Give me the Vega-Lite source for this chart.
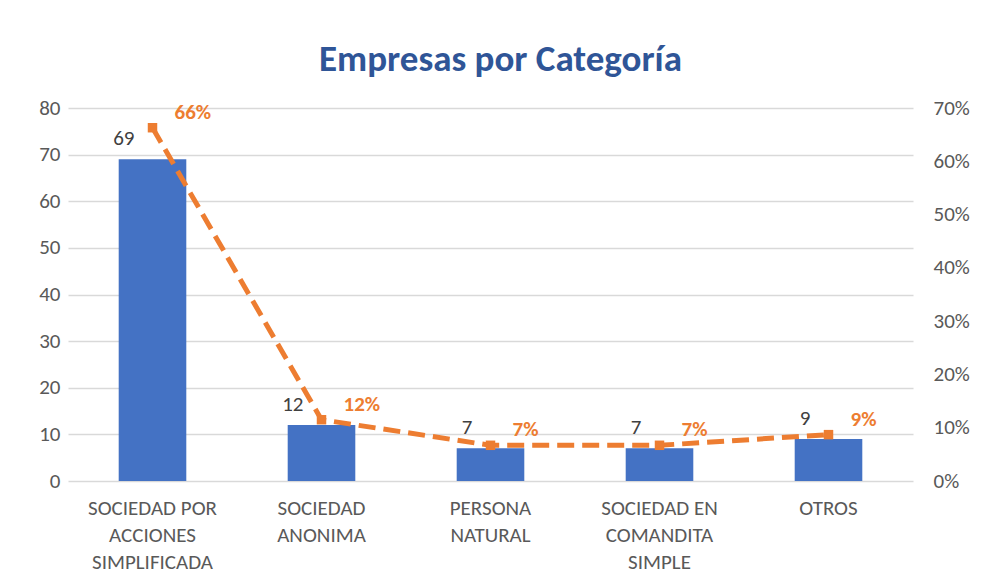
{
  "$schema": "https://vega.github.io/schema/vega-lite/v6.json",
  "width": 845,
  "height": 373,
  "autosize": "none",
  "padding": {"left": 68, "top": 108, "right": 71, "bottom": 105},
  "background": "white",
  "title": {
    "text": "Empresas por Categoría",
    "font": "Carlito, Liberation Sans Narrow, Open Sans",
    "fontSize": 37,
    "fontWeight": "bold",
    "color": "#2F5597",
    "offset": 18,
    "dx": 10
  },
  "data": {
    "values": [
      {"categoria": "SOCIEDAD POR ACCIONES SIMPLIFICADA", "empresas": 69, "porcentaje": 0.663},
      {"categoria": "SOCIEDAD ANONIMA", "empresas": 12, "porcentaje": 0.115},
      {"categoria": "PERSONA NATURAL", "empresas": 7, "porcentaje": 0.067},
      {"categoria": "SOCIEDAD EN COMANDITA SIMPLE", "empresas": 7, "porcentaje": 0.067},
      {"categoria": "OTROS", "empresas": 9, "porcentaje": 0.087}
    ]
  },
  "encoding": {
    "x": {
      "field": "categoria",
      "type": "nominal",
      "sort": null,
      "scale": {"paddingInner": 0.6, "paddingOuter": 0.3},
      "axis": {
        "title": null,
        "labelAngle": 0,
        "domain": false,
        "ticks": false,
        "labelPadding": 16,
        "labelFont": "Carlito, Liberation Sans Narrow, Open Sans",
        "labelFontSize": 21,
        "labelColor": "#595959",
        "labelLineHeight": 27,
        "labelExpr": "datum.label == 'SOCIEDAD POR ACCIONES SIMPLIFICADA' ? ['SOCIEDAD POR', 'ACCIONES', 'SIMPLIFICADA'] : datum.label == 'SOCIEDAD ANONIMA' ? ['SOCIEDAD', 'ANONIMA'] : datum.label == 'PERSONA NATURAL' ? ['PERSONA', 'NATURAL'] : datum.label == 'SOCIEDAD EN COMANDITA SIMPLE' ? ['SOCIEDAD EN', 'COMANDITA', 'SIMPLE'] : datum.label"
      }
    }
  },
  "layer": [
    {
      "encoding": {
        "y": {
          "field": "empresas",
          "type": "quantitative",
          "scale": {"domain": [0, 80], "nice": false},
          "axis": {
            "title": null,
            "values": [0, 10, 20, 30, 40, 50, 60, 70, 80],
            "labelOverlap": false,
            "domain": false,
            "ticks": false,
            "labelPadding": 8,
            "labelFont": "Carlito, Liberation Sans Narrow, Open Sans",
            "labelFontSize": 21,
            "labelColor": "#595959",
            "gridColor": "#D9D9D9",
            "gridWidth": 1.3
          }
        }
      },
      "layer": [
        {"mark": {"type": "bar", "color": "#4472C4"}},
        {
          "mark": {
            "type": "text",
            "align": "right",
            "baseline": "bottom",
            "dx": -18,
            "dy": -10,
            "font": "Carlito, Liberation Sans Narrow, Open Sans",
            "fontSize": 21,
            "color": "#404040"
          },
          "encoding": {"text": {"field": "empresas", "type": "quantitative"}}
        }
      ]
    },
    {
      "encoding": {
        "y": {
          "field": "porcentaje",
          "type": "quantitative",
          "scale": {"domain": [0, 0.7], "nice": false},
          "axis": {
            "orient": "right",
            "title": null,
            "format": ".0%",
            "values": [0, 0.1, 0.2, 0.3, 0.4, 0.5, 0.6, 0.7],
            "labelOverlap": false,
            "domain": false,
            "ticks": false,
            "grid": false,
            "labelPadding": 20,
            "labelFont": "Carlito, Liberation Sans Narrow, Open Sans",
            "labelFontSize": 21,
            "labelColor": "#595959"
          }
        }
      },
      "layer": [
        {
          "mark": {"type": "line", "color": "#ED7D31", "strokeWidth": 5, "strokeDash": [17, 8]}
        },
        {
          "mark": {"type": "point", "shape": "square", "filled": true, "size": 90, "color": "#ED7D31", "opacity": 1}
        },
        {
          "mark": {
            "type": "text",
            "align": "left",
            "baseline": "middle",
            "dx": 22,
            "dy": -15,
            "font": "Carlito, Liberation Sans Narrow, Open Sans",
            "fontSize": 21,
            "fontWeight": "bold",
            "color": "#ED7D31"
          },
          "encoding": {"text": {"field": "porcentaje", "type": "quantitative", "format": ".0%"}}
        }
      ]
    }
  ],
  "resolve": {"scale": {"y": "independent"}},
  "config": {"view": {"stroke": null}}
}
